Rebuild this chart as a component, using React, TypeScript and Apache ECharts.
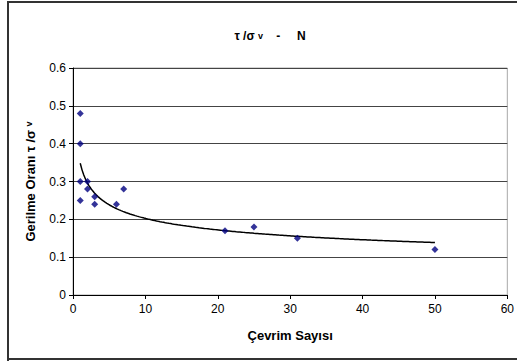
import React, { useEffect, useRef } from "react";
import * as echarts from "echarts";

const cycles = [1, 1, 1, 1, 2, 2, 3, 3, 6, 7, 21, 25, 31, 50];
const ratios = [0.48, 0.4, 0.3, 0.25, 0.3, 0.28, 0.26, 0.24, 0.24, 0.28, 0.17, 0.18, 0.15, 0.12];
const xTicks = [0, 10, 20, 30, 40, 50, 60];
const yTicks = [0, 0.1, 0.2, 0.3, 0.4, 0.5, 0.6];

// Power trendline (least squares on ln-ln), as a spreadsheet trendline would do
function powerFit(xs: number[], ys: number[]) {
  const n = xs.length;
  const lx = xs.map(Math.log);
  const ly = ys.map(Math.log);
  const mx = lx.reduce((a, b) => a + b, 0) / n;
  const my = ly.reduce((a, b) => a + b, 0) / n;
  let sxy = 0, sxx = 0;
  for (let i = 0; i < n; i++) {
    sxy += (lx[i] - mx) * (ly[i] - my);
    sxx += (lx[i] - mx) * (lx[i] - mx);
  }
  const b = sxy / sxx;
  const a = Math.exp(my - b * mx);
  return (x: number) => a * Math.pow(x, b);
}

export default function App() {
  const ref = useRef<HTMLDivElement>(null);
  useEffect(() => {
    document.body.style.margin = "0";
    document.body.style.overflow = "hidden";
    const chart = echarts.init(ref.current!, null, { renderer: "svg" });
    const f = powerFit(cycles, ratios);
    const xMin = Math.min(...cycles);
    const xMax = Math.max(...cycles);
    const trend: number[][] = [];
    for (let i = 0; i <= 200; i++) {
      const x = xMin + ((xMax - xMin) * i) / 200;
      trend.push([x, f(x)]);
    }
    const font = "'Liberation Sans', Arial, sans-serif";
    const frame = { stroke: "#333", lineWidth: 2 };
    chart.setOption({
      animation: false,
      backgroundColor: "#ffffff",
      textStyle: { fontFamily: font },
      title: {
        text: "{a|τ /σ }{s|v}{a|    -     N}",
        left: 265,
        top: 25,
        textAlign: "center",
        textStyle: {
          rich: {
            a: { fontFamily: font, fontSize: 12, fontWeight: "bold", color: "#000" },
            s: { fontFamily: font, fontSize: 9, fontWeight: "bold", color: "#000" },
          },
        },
      },
      graphic: [
        { type: "line", silent: true, shape: { x1: 8, y1: 1, x2: 8, y2: 361 }, style: frame },
        { type: "line", silent: true, shape: { x1: 7, y1: 2, x2: 517, y2: 2 }, style: frame },
        { type: "line", silent: true, shape: { x1: 7, y1: 359, x2: 517, y2: 359 }, style: frame },
      ],
      grid: {
        left: 73,
        right: 5,
        top: 68,
        bottom: 67,
        show: true,
        borderColor: "#a8a8a8",
        borderWidth: 1,
        backgroundColor: "transparent",
      },
      xAxis: {
        type: "value",
        min: 0,
        max: 60,
        interval: 10,
        name: "Çevrim Sayısı",
        nameLocation: "middle",
        nameGap: 34,
        nameTextStyle: { fontFamily: font, fontSize: 13, fontWeight: "bold", color: "#000" },
        axisLine: { show: true, onZero: false, lineStyle: { color: "#000", width: 1 } },
        axisTick: { show: true, inside: false, length: 4, lineStyle: { color: "#000" } },
        axisLabel: {
          fontFamily: font,
          fontSize: 12,
          color: "#000",
          margin: 8,
          formatter: (v: number) => (xTicks.includes(v) ? String(v) : ""),
        },
        splitLine: { show: false },
      },
      yAxis: {
        type: "value",
        min: 0,
        max: 0.6,
        interval: 0.1,
        name: "{a|Gerilme Oranı }{b|τ /σ }{s|v}",
        nameLocation: "middle",
        nameGap: 36,
        nameRotate: 90,
        nameTextStyle: {
          rich: {
            a: { fontFamily: font, fontSize: 13, fontWeight: "bold", color: "#000" },
            b: { fontFamily: font, fontSize: 13, fontWeight: "bold", color: "#000" },
            s: { fontFamily: font, fontSize: 9, fontWeight: "bold", color: "#000", padding: [0, 0, 4, 0] },
          },
        },
        axisLine: { show: true, lineStyle: { color: "#000", width: 1 } },
        axisTick: { show: true, inside: false, length: 4, lineStyle: { color: "#000" } },
        axisLabel: {
          fontFamily: font,
          fontSize: 12,
          color: "#000",
          margin: 7,
          formatter: (v: number) => {
            const t = yTicks.find((y) => Math.abs(y - v) < 1e-9);
            return t === undefined ? "" : t === 0 ? "0" : t.toFixed(1);
          },
        },
        splitLine: { show: true, lineStyle: { color: "#444", width: 1 } },
      },
      series: [
        {
          type: "line",
          data: trend,
          showSymbol: false,
          symbol: "none",
          lineStyle: { color: "#000", width: 1.5 },
          z: 2,
        },
        {
          type: "scatter",
          data: cycles.map((c, i) => [c, ratios[i]]),
          symbol: "diamond",
          symbolSize: 7,
          itemStyle: { color: "#000080" },
          z: 3,
        },
      ],
    });
    return () => chart.dispose();
  }, []);
  return <div ref={ref} style={{ position: "absolute", left: 0, top: 0, width: 517, height: 362 }} />;
}
